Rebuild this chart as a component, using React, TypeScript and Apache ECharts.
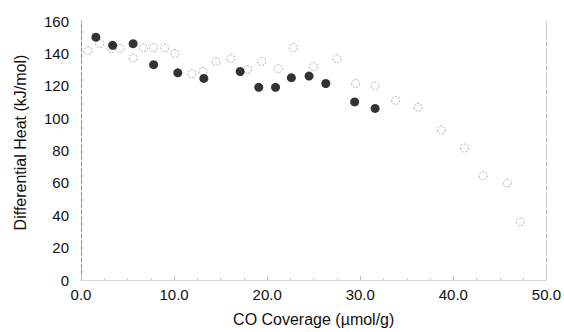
import React, { useEffect, useRef } from "react";
import * as echarts from "echarts";

const filledX = [1.6, 3.4, 5.6, 7.8, 10.4, 13.2, 17.1, 19.1, 20.9, 22.6, 24.5, 26.3, 29.4, 31.6];
const filledY = [150, 145, 146, 133, 128, 124.5, 128.8, 119, 119, 125, 126, 121.4, 110, 106];

const openX = [0.75, 2.0, 3.3, 4.2, 5.6, 6.7, 7.8, 9.0, 10.1, 11.9, 13.1, 14.5, 16.1, 17.9, 19.4, 21.2, 22.8, 25.0, 27.5, 29.5, 31.6, 33.8, 36.2, 38.7, 41.2, 43.2, 45.8, 47.2];
const openY = [141.6, 146, 143, 143, 137, 143.5, 143.5, 143.5, 140, 127.5, 128.8, 135, 136.7, 130, 135, 130.6, 143.5, 131.8, 136.7, 121.4, 120, 111, 106.7, 92.6, 81.5, 64.4, 60, 36];

const xTicks = ["0.0", "10.0", "20.0", "30.0", "40.0", "50.0"];
const yTicks = [0, 20, 40, 60, 80, 100, 120, 140, 160];

export default function App() {
  const ref = useRef<HTMLDivElement>(null);
  useEffect(() => {
    const chart = echarts.init(ref.current!, null, { renderer: "svg" });
    const font = "'Liberation Sans', Arial, sans-serif";
    chart.setOption({
      animation: false,
      backgroundColor: "#ffffff",
      grid: { left: 81, right: 15, top: 21, bottom: 49 },
      xAxis: {
        type: "value",
        min: 0,
        max: 50,
        interval: 10,
        name: "CO Coverage (µmol/g)",
        nameLocation: "middle",
        nameGap: 31,
        nameTextStyle: { fontFamily: font, fontSize: 16, color: "#111" },
        axisLine: { show: true, lineStyle: { color: "#d0d0d0", type: "dotted", width: 1 } },
        axisTick: { show: true, inside: true, length: 4, lineStyle: { color: "#bbb" } },
        minorTick: { show: true, splitNumber: 4, length: 2, lineStyle: { color: "#ccc" } },
        axisLabel: {
          fontFamily: font,
          fontSize: 15,
          color: "#111",
          margin: 7,
          formatter: (v: number) => xTicks[Math.round(v / 10)] ?? "",
        },
        splitLine: { show: false },
      },
      yAxis: [
        {
          type: "value",
          min: 0,
          max: 160,
          interval: 20,
          name: "Differential Heat (kJ/mol)",
          nameLocation: "middle",
          nameGap: 53,
          nameTextStyle: { fontFamily: font, fontSize: 16, color: "#111", padding: [0, 0, 0, 16] },
          axisLine: { show: true, lineStyle: { color: "#888", type: "dashed", width: 1 } },
          axisTick: { show: false },
          axisLabel: {
            fontFamily: font,
            fontSize: 15,
            color: "#111",
            margin: 12,
            formatter: (v: number) => (yTicks.includes(v) ? String(v) : ""),
          },
          splitLine: { show: false },
        },
        {
          type: "value",
          min: 0,
          max: 160,
          interval: 20,
          position: "right",
          axisLine: { show: true, lineStyle: { color: "#bbb", type: "dashed", width: 1 } },
          axisTick: { show: false },
          axisLabel: { show: false },
          splitLine: { show: false },
        },
      ],
      series: [
        {
          type: "scatter",
          symbol: "circle",
          symbolSize: 8,
          itemStyle: { color: "rgba(255,255,255,0)", borderColor: "#9a9a9a", borderWidth: 1, borderType: [2, 1.5] },
          data: openX.map((x, i) => [x, openY[i]]),
        },
        {
          type: "scatter",
          symbol: "circle",
          symbolSize: 9,
          itemStyle: { color: "#000" },
          data: filledX.map((x, i) => [x, filledY[i]]),
        },
      ],
    });
    return () => chart.dispose();
  }, []);
  return <div ref={ref} style={{ position: "absolute", left: 0, top: 0, width: 564, height: 332 }} />;
}
